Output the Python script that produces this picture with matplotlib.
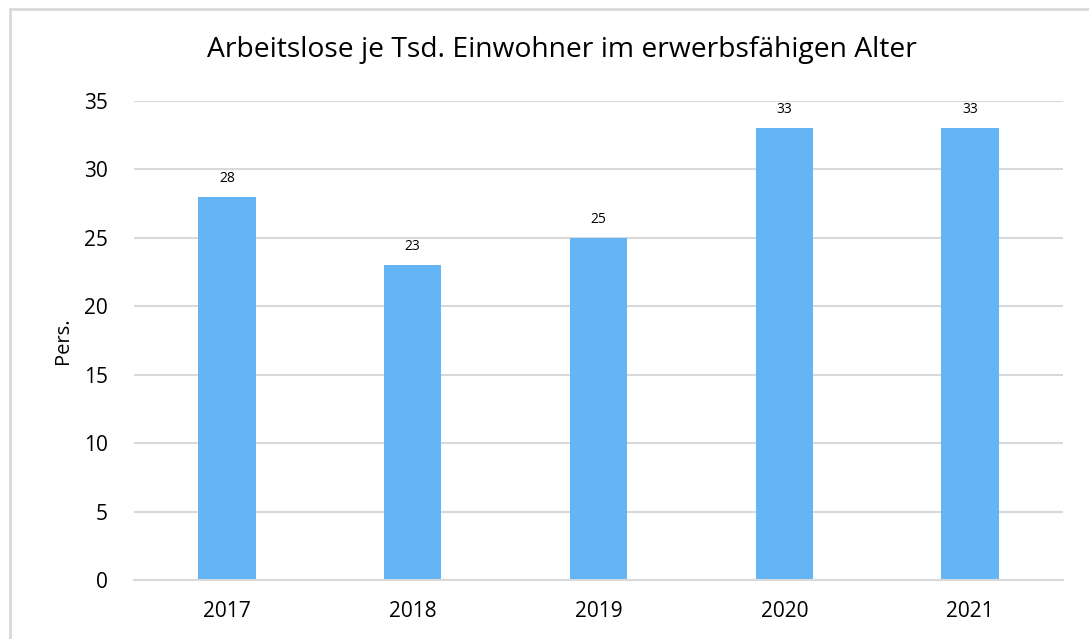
import matplotlib
matplotlib.use("Agg")
import matplotlib.pyplot as plt
from matplotlib.patches import Rectangle

years = ["2017", "2018", "2019", "2020", "2021"]
values = [28, 23, 25, 33, 33]
yticks = [0, 5, 10, 15, 20, 25, 30, 35]

BAR = "#64B5F6"
GRID = "#D9D9D9"

plt.rcParams["font.family"] = ["Open Sans", "DejaVu Sans"]

fig = plt.figure(figsize=(10.89, 6.39), dpi=100)

# light frame around the chart area
fig.patches.append(Rectangle((10 / 1089, -0.05), 1.1, 1 - 9 / 639 + 0.05,
                             transform=fig.transFigure, fill=False,
                             edgecolor=GRID, linewidth=2))

ax = fig.add_axes([134 / 1089, 1 - 580 / 639, 929 / 1089, (580 - 101) / 639])
x = range(len(years))
bars = ax.bar(x, values, width=0.31, color=BAR, zorder=2)
for b, v in zip(bars, values):
    ax.annotate(str(v), (b.get_x() + b.get_width() / 2, v), xytext=(0, 8),
                textcoords="offset points", ha="center", va="bottom", fontsize=10)

ax.set_xlim(-0.5, len(years) - 0.5)
ax.set_ylim(0, 35)
ax.set_yticks(yticks)
ax.set_xticks(list(x))
ax.set_xticklabels(years)
ax.tick_params(length=0, labelsize=15)
ax.tick_params(axis="x", pad=15)
ax.tick_params(axis="y", pad=19)
ax.grid(axis="y", color=GRID, linewidth=1.5, zorder=0)
for s in ["top", "right", "left"]:
    ax.spines[s].set_visible(False)
ax.spines["bottom"].set_color(GRID)
ax.spines["bottom"].set_linewidth(1.5)
ax.set_ylabel("Pers.", fontsize=14.5)
ax.yaxis.set_label_coords(-61 / 929, 0.5)

# title centred over the whole chart frame
fig.text(562 / 1089, 1 - 50 / 639, "Arbeitslose je Tsd. Einwohner im erwerbsfähigen Alter",
         fontsize=20.3, ha="center", va="center")

fig.savefig("out.png", dpi=100)
